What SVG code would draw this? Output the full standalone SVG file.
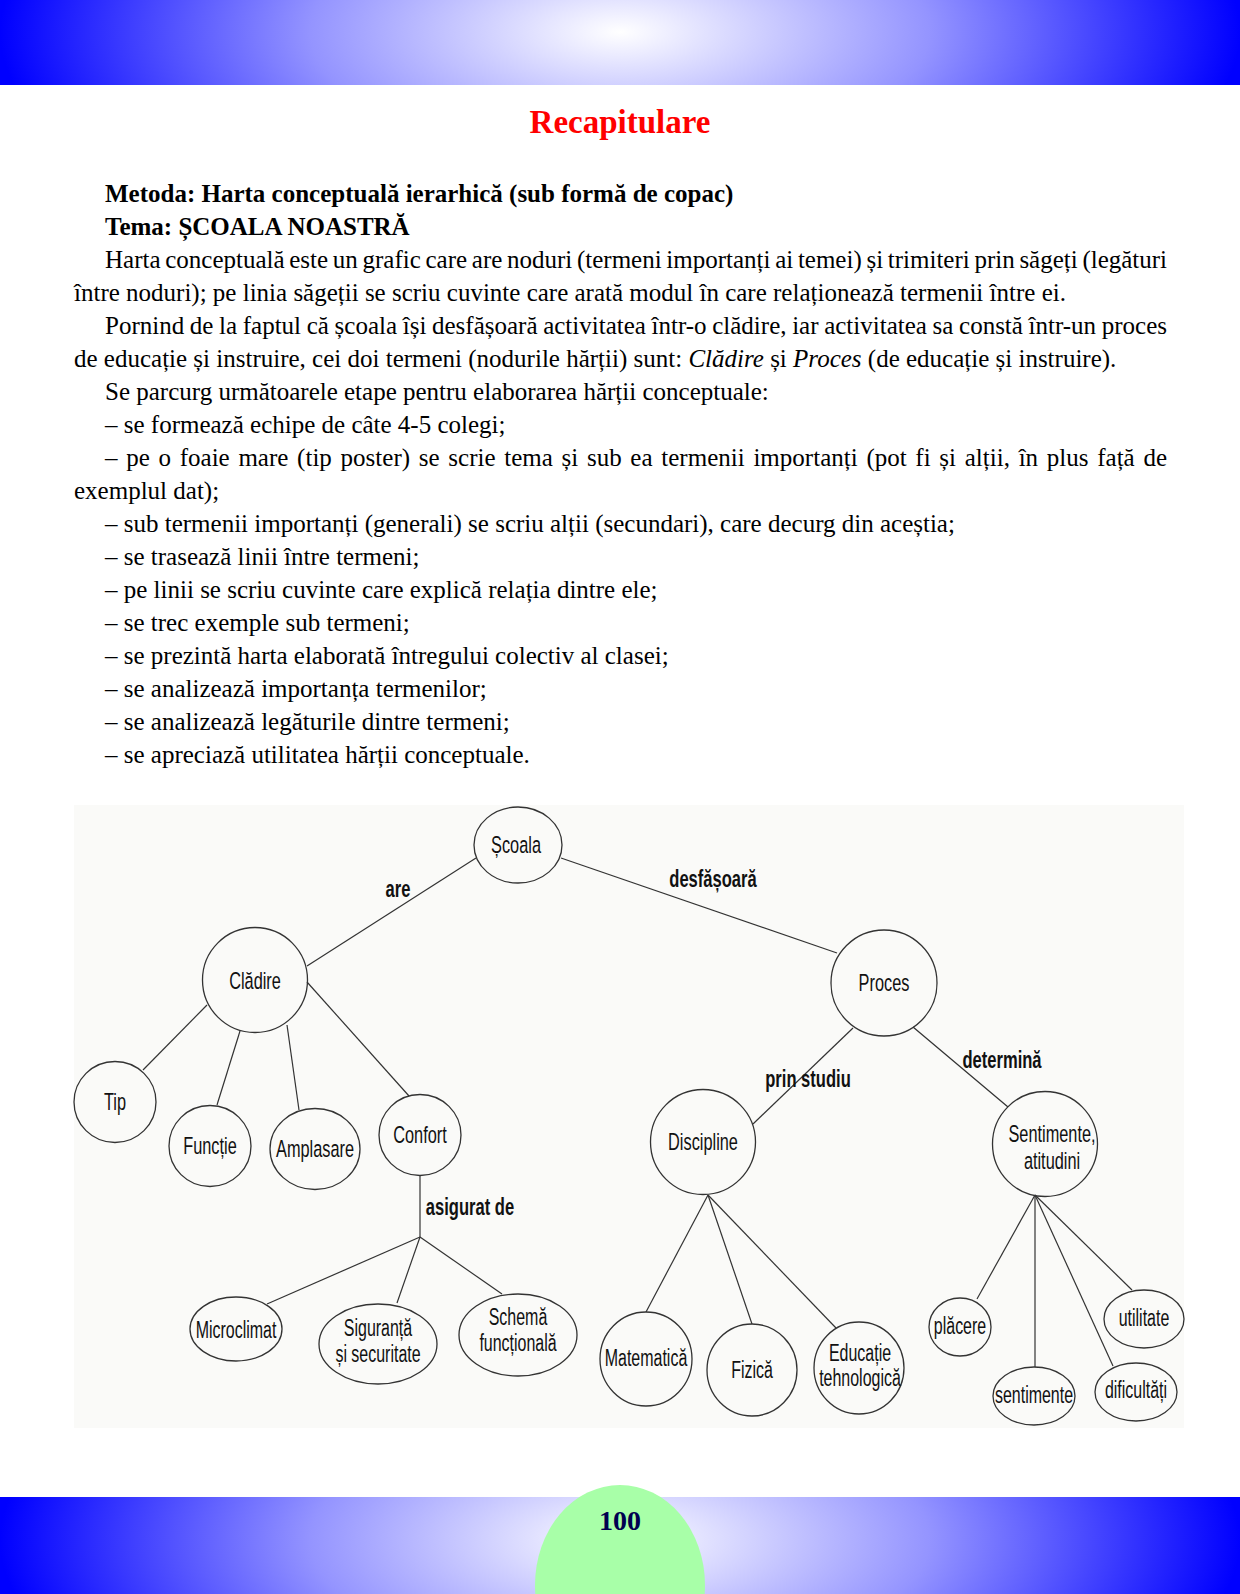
<svg xmlns="http://www.w3.org/2000/svg" width="1240" height="1594" viewBox="0 0 1240 1594">
<defs>
<radialGradient id="bandTop" gradientUnits="userSpaceOnUse" cx="620" cy="32" r="620" gradientTransform="translate(620 32) scale(1 0.4) translate(-620 -32)">
<stop offset="0" stop-color="#ffffff"/>
<stop offset="0.5" stop-color="#9494ff"/>
<stop offset="1" stop-color="#0000ff"/>
</radialGradient>
<radialGradient id="bandBot" gradientUnits="userSpaceOnUse" cx="620" cy="1540" r="620" gradientTransform="translate(620 1540) scale(1 0.4) translate(-620 -1540)">
<stop offset="0" stop-color="#ffffff"/>
<stop offset="0.5" stop-color="#9494ff"/>
<stop offset="1" stop-color="#0000ff"/>
</radialGradient>
<style>
.body{font-family:"Liberation Serif","Times New Roman",serif;font-size:25px;fill:#000}
.b{font-weight:bold}
.n{font-family:"Liberation Sans",Arial,sans-serif;font-size:23.5px;fill:#111;text-anchor:middle}
.lb{font-family:"Liberation Sans",Arial,sans-serif;font-size:23px;font-weight:bold;fill:#111;text-anchor:middle}
.shape{fill:none;stroke:#333;stroke-width:1.3}
.con line{stroke:#333;stroke-width:1.2}
</style>
</defs>
<rect x="0" y="0" width="1240" height="1594" fill="#ffffff"/>
<rect x="0" y="0" width="1240" height="85" fill="url(#bandTop)"/>
<rect x="0" y="1497" width="1240" height="97" fill="url(#bandBot)"/>
<ellipse cx="620" cy="1585" rx="85" ry="100" fill="#a8ffa8"/>
<text x="620" y="1530" font-family="Liberation Serif,'Times New Roman',serif" font-size="28" font-weight="bold" fill="#000050" text-anchor="middle">100</text>

<text x="620" y="133" font-family="Liberation Serif,'Times New Roman',serif" font-size="33" font-weight="bold" fill="#ff0000" text-anchor="middle">Recapitulare</text>

<g id="body-text">
<text class="body b" x="105" y="202">Metoda: Harta conceptuală ierarhică (sub formă de copac)</text>
<text class="body b" x="105" y="235">Tema: ȘCOALA NOASTRĂ</text>
<text class="body" x="105" y="268" word-spacing="-1.5" textLength="1062" lengthAdjust="spacing">Harta conceptuală este un grafic care are noduri (termeni importanți ai temei) și trimiteri prin săgeți (legături</text>
<text class="body" x="74" y="301">între noduri); pe linia săgeții se scriu cuvinte care arată modul în care relaționează termenii între ei.</text>
<text class="body" x="105" y="334" word-spacing="-0.6" textLength="1062" lengthAdjust="spacing">Pornind de la faptul că școala își desfășoară activitatea într-o clădire, iar activitatea sa constă într-un proces</text>
<text class="body" x="74" y="367">de educație și instruire, cei doi termeni (nodurile hărții) sunt: <tspan font-style="italic">Clădire</tspan> și <tspan font-style="italic">Proces</tspan> (de educație și instruire).</text>
<text class="body" x="105" y="400">Se parcurg următoarele etape pentru elaborarea hărții conceptuale:</text>
<text class="body" x="105" y="433">– se formează echipe de câte 4-5 colegi;</text>
<text class="body" x="105" y="466" word-spacing="2.4" textLength="1062" lengthAdjust="spacing">– pe o foaie mare (tip poster) se scrie tema și sub ea termenii importanți (pot fi și alții, în plus față de</text>
<text class="body" x="74" y="499">exemplul dat);</text>
<text class="body" x="105" y="532">– sub termenii importanți (generali) se scriu alții (secundari), care decurg din aceștia;</text>
<text class="body" x="105" y="565">– se trasează linii între termeni;</text>
<text class="body" x="105" y="598">– pe linii se scriu cuvinte care explică relația dintre ele;</text>
<text class="body" x="105" y="631">– se trec exemple sub termeni;</text>
<text class="body" x="105" y="664">– se prezintă harta elaborată întregului colectiv al clasei;</text>
<text class="body" x="105" y="697">– se analizează importanța termenilor;</text>
<text class="body" x="105" y="730">– se analizează legăturile dintre termeni;</text>
<text class="body" x="105" y="763">– se apreciază utilitatea hărții conceptuale.</text>
</g>

<rect x="74" y="805" width="1110" height="623" fill="#fafaf8"/>

<g id="connectors" class="con">
<line x1="476" y1="858" x2="307" y2="966"/>
<line x1="561" y1="858" x2="837" y2="953"/>
<line x1="207" y1="1005" x2="143" y2="1070"/>
<line x1="240" y1="1031" x2="217" y2="1105"/>
<line x1="287" y1="1025" x2="299" y2="1110"/>
<line x1="307" y1="982" x2="409" y2="1096"/>
<line x1="420" y1="1176" x2="420" y2="1237"/>
<line x1="420" y1="1237" x2="267" y2="1304"/>
<line x1="420" y1="1237" x2="397" y2="1303"/>
<line x1="420" y1="1237" x2="502" y2="1294"/>
<line x1="853" y1="1028" x2="753" y2="1124"/>
<line x1="913" y1="1027" x2="1008" y2="1107"/>
<line x1="708" y1="1195" x2="646" y2="1312"/>
<line x1="708" y1="1195" x2="752" y2="1324"/>
<line x1="708" y1="1195" x2="836" y2="1328"/>
<line x1="1035" y1="1195" x2="977" y2="1299"/>
<line x1="1035" y1="1195" x2="1035" y2="1367"/>
<line x1="1035" y1="1195" x2="1113" y2="1366"/>
<line x1="1035" y1="1195" x2="1132" y2="1290"/>
</g>

<g id="edge-labels">
<text class="lb" transform="translate(398 897) scale(0.72 1)">are</text>
<text class="lb" transform="translate(713 887) scale(0.72 1)">desfășoară</text>
<text class="lb" transform="translate(808 1087) scale(0.72 1)">prin studiu</text>
<text class="lb" transform="translate(1002 1068) scale(0.72 1)">determină</text>
<text class="lb" transform="translate(470 1215) scale(0.72 1)">asigurat de</text>
</g>

<g id="node-scoala"><ellipse class="shape" cx="518" cy="845" rx="44" ry="38"/><text class="n" transform="translate(516 853) scale(0.695 1)">Școala</text></g>
<g id="node-cladire"><circle class="shape" cx="255" cy="980" r="52.5"/><text class="n" transform="translate(255 989) scale(0.695 1)">Clădire</text></g>
<g id="node-proces"><circle class="shape" cx="884" cy="983" r="53"/><text class="n" transform="translate(884 991) scale(0.695 1)">Proces</text></g>
<g id="node-tip"><ellipse class="shape" cx="115" cy="1102" rx="41" ry="40.5"/><text class="n" transform="translate(115 1110) scale(0.695 1)">Tip</text></g>
<g id="node-functie"><ellipse class="shape" cx="210" cy="1146" rx="41" ry="40.5"/><text class="n" transform="translate(210 1154) scale(0.695 1)">Funcție</text></g>
<g id="node-amplasare"><ellipse class="shape" cx="315" cy="1149" rx="45" ry="40.5"/><text class="n" transform="translate(315 1157) scale(0.695 1)">Amplasare</text></g>
<g id="node-confort"><ellipse class="shape" cx="420" cy="1135" rx="41" ry="40.5"/><text class="n" transform="translate(420 1143) scale(0.695 1)">Confort</text></g>
<g id="node-microclimat"><ellipse class="shape" cx="236" cy="1329" rx="46" ry="32"/><text class="n" transform="translate(236 1338) scale(0.68 1)">Microclimat</text></g>
<g id="node-siguranta"><ellipse class="shape" cx="378" cy="1344" rx="59" ry="40"/><text class="n" transform="translate(378 1336) scale(0.68 1)">Siguranță</text><text class="n" transform="translate(378 1362) scale(0.68 1)">și securitate</text></g>
<g id="node-schema"><ellipse class="shape" cx="518" cy="1335" rx="59" ry="41"/><text class="n" transform="translate(518 1325) scale(0.68 1)">Schemă</text><text class="n" transform="translate(518 1351) scale(0.68 1)">funcțională</text></g>
<g id="node-discipline"><circle class="shape" cx="703" cy="1142" r="52.5"/><text class="n" transform="translate(703 1150) scale(0.695 1)">Discipline</text></g>
<g id="node-sentimente"><circle class="shape" cx="1045" cy="1144" r="52.5"/><text class="n" transform="translate(1052 1142) scale(0.695 1)">Sentimente,</text><text class="n" transform="translate(1052 1169) scale(0.695 1)">atitudini</text></g>
<g id="node-matematica"><ellipse class="shape" cx="646" cy="1359" rx="46" ry="47"/><text class="n" transform="translate(646 1366) scale(0.68 1)">Matematică</text></g>
<g id="node-fizica"><ellipse class="shape" cx="752" cy="1370" rx="45" ry="46"/><text class="n" transform="translate(752 1378) scale(0.68 1)">Fizică</text></g>
<g id="node-educatie"><ellipse class="shape" cx="859" cy="1368" rx="45" ry="46"/><text class="n" transform="translate(860 1361) scale(0.68 1)">Educație</text><text class="n" transform="translate(860 1386) scale(0.68 1)">tehnologică</text></g>
<g id="node-placere"><ellipse class="shape" cx="960" cy="1327" rx="31" ry="29"/><text class="n" transform="translate(960 1334) scale(0.68 1)">plăcere</text></g>
<g id="node-sentimente2"><ellipse class="shape" cx="1034" cy="1396" rx="41" ry="29"/><text class="n" transform="translate(1034 1403) scale(0.68 1)">sentimente</text></g>
<g id="node-dificultati"><ellipse class="shape" cx="1136" cy="1392" rx="41" ry="29"/><text class="n" transform="translate(1136 1398) scale(0.68 1)">dificultăți</text></g>
<g id="node-utilitate"><ellipse class="shape" cx="1144" cy="1319" rx="40" ry="29"/><text class="n" transform="translate(1144 1326) scale(0.68 1)">utilitate</text></g>
</svg>
